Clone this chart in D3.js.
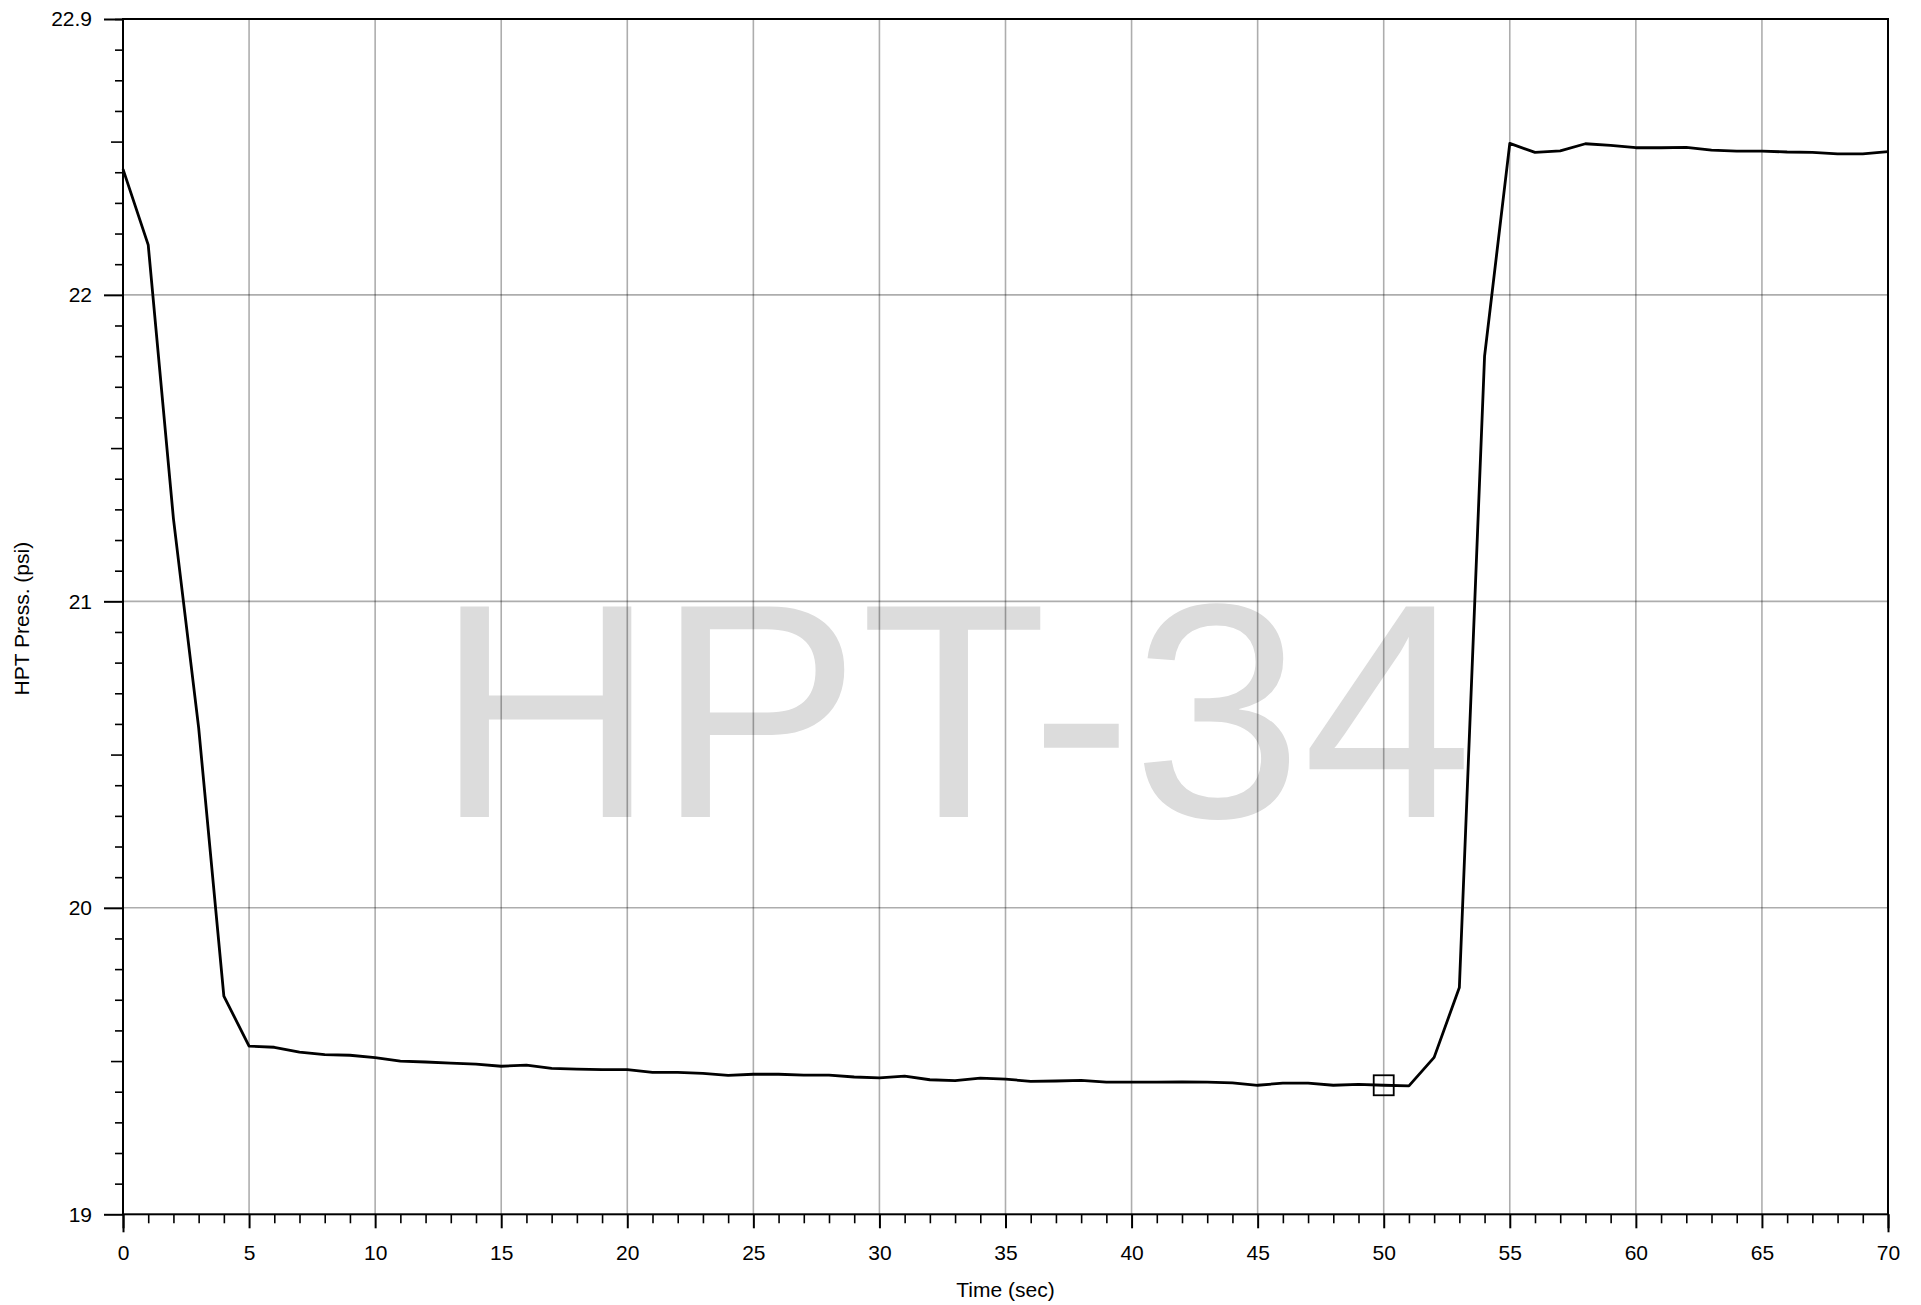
<!DOCTYPE html>
<html>
<head>
<meta charset="utf-8">
<script src="https://cdn.jsdelivr.net/npm/d3@7"></script>
<style>
  html, body { margin: 0; padding: 0; background: #fff; }
  svg { display: block; font-family: "Liberation Sans", Arial, Helvetica, sans-serif; }
</style>
</head>
<body>
<svg id="chart" width="1921" height="1305"></svg>
<script>
// Sample times (sec)
const timeSec = [0, 1, 2, 3, 4, 5, 6, 7, 8, 9, 10, 11, 12, 13, 14, 15, 16, 17, 18, 19,
  20, 21, 22, 23, 24, 25, 26, 27, 28, 29, 30, 31, 32, 33, 34, 35, 36, 37, 38, 39,
  40, 41, 42, 43, 44, 45, 46, 47, 48, 49, 50, 51, 52, 53, 54, 55, 56, 57, 58, 59,
  60, 61, 62, 63, 64, 65, 66, 67, 68, 69, 70];

// HPT pressure (psi) at each sample time
const hptPressure = [22.41, 22.163, 21.27, 20.588, 19.712, 19.549, 19.545, 19.529, 19.521, 19.519,
  19.511, 19.500, 19.497, 19.493, 19.490, 19.483, 19.487, 19.476, 19.474, 19.472,
  19.472, 19.463, 19.463, 19.460, 19.453, 19.457, 19.457, 19.454, 19.454, 19.448,
  19.445, 19.451, 19.439, 19.436, 19.444, 19.441, 19.434, 19.435, 19.437, 19.431,
  19.431, 19.431, 19.432, 19.431, 19.429, 19.421, 19.428, 19.428, 19.421, 19.424,
  19.421, 19.419, 19.512, 19.740, 21.80, 22.494, 22.465, 22.470, 22.493, 22.488,
  22.480, 22.480, 22.481, 22.472, 22.469, 22.469, 22.466, 22.465, 22.460, 22.460,
  22.467];

// Highlighted sample
const markerTime = [50];
const markerPressure = [19.421];

// Axis tick labels
const xTickLabels = [0, 5, 10, 15, 20, 25, 30, 35, 40, 45, 50, 55, 60, 65, 70];
const yTickLabels = [19, 20, 21, 22, 22.9];
const yHalfTicks = [19.5, 20.5, 21.5, 22.5];

const xDomain = [0, 70];
const yDomain = [19, 22.9];

const watermarkText = "HPT-34";
const xTitle = "Time (sec)";
const yTitle = "HPT Press. (psi)";

// ---- layout ----
const plotLeft = 123, plotRight = 1888, plotTop = 19, plotBottom = 1214.3;
const svg = d3.select("#chart");

const x = d3.scaleLinear().domain(xDomain).range([plotLeft, plotRight]);
const y = d3.scaleLinear().domain(yDomain).range([plotBottom, plotTop]);

const fontSize = 21;

// Watermark sits beneath grid and data
svg.append("text")
  .attr("x", 954)
  .attr("y", 817)
  .attr("text-anchor", "middle")
  .attr("font-size", 306)
  .attr("fill", "#dcdcdc")
  .text(watermarkText);

// Grid lines
const grid = svg.append("g").attr("stroke", "#000").attr("stroke-opacity", 0.32).attr("stroke-width", 1.6);
grid.selectAll("line.vx")
  .data(xTickLabels.filter(v => v > xDomain[0] && v < xDomain[1]))
  .join("line")
  .attr("x1", d => x(d)).attr("x2", d => x(d))
  .attr("y1", plotTop).attr("y2", plotBottom);
grid.selectAll("line.hy")
  .data(yTickLabels.filter(v => v > yDomain[0] && v < yDomain[1]))
  .join("line")
  .attr("x1", plotLeft).attr("x2", plotRight)
  .attr("y1", d => y(d)).attr("y2", d => y(d));

// ---- X axis layers ----
const xMinor = d3.range(xDomain[0], xDomain[1] + 1, 1).filter(v => v % 5 !== 0);
function styleAxis(g, width) {
  g.selectAll(".tick line").attr("stroke", "#000").attr("stroke-width", width);
  g.select(".domain").remove();
}
svg.append("g")
  .attr("transform", `translate(0,${plotBottom})`)
  .call(d3.axisBottom(x).tickValues(xMinor).tickSize(9).tickFormat(""))
  .call(g => styleAxis(g, 1.6));
svg.append("g")
  .attr("transform", `translate(0,${plotBottom})`)
  .call(d3.axisBottom(x).tickValues([xDomain[0], xDomain[1]]).tickSize(18).tickFormat(""))
  .call(g => styleAxis(g, 2));
svg.append("g")
  .attr("transform", `translate(0,${plotBottom})`)
  .call(d3.axisBottom(x).tickValues(xTickLabels).tickSize(14).tickPadding(17).tickFormat(d3.format("d")))
  .call(g => styleAxis(g, 2))
  .call(g => g.selectAll("text").attr("font-size", fontSize).attr("fill", "#000")
    .attr("font-family", "'Liberation Sans', Arial, sans-serif"));

// ---- Y axis layers ----
const yMinor = d3.range(190, 230, 1).map(v => v / 10)
  .filter(v => Math.abs(v * 2 - Math.round(v * 2)) > 1e-6);
svg.append("g")
  .attr("transform", `translate(${plotLeft},0)`)
  .call(d3.axisLeft(y).tickValues(yMinor).tickSize(8).tickFormat(""))
  .call(g => styleAxis(g, 1.6));
svg.append("g")
  .attr("transform", `translate(${plotLeft},0)`)
  .call(d3.axisLeft(y).tickValues(yHalfTicks).tickSize(12).tickFormat(""))
  .call(g => styleAxis(g, 1.6));
svg.append("g")
  .attr("transform", `translate(${plotLeft},0)`)
  .call(d3.axisLeft(y).tickValues(yTickLabels).tickSize(19).tickPadding(12).tickFormat(d => String(d)))
  .call(g => styleAxis(g, 2))
  .call(g => g.selectAll("text").attr("font-size", fontSize).attr("fill", "#000")
    .attr("font-family", "'Liberation Sans', Arial, sans-serif"));

// Plot frame
svg.append("rect")
  .attr("x", plotLeft).attr("y", plotTop)
  .attr("width", plotRight - plotLeft).attr("height", plotBottom - plotTop)
  .attr("fill", "none").attr("stroke", "#000").attr("stroke-width", 2);

// Data line
const series = timeSec.map((t, i) => ({ t, p: hptPressure[i] }));
svg.append("path")
  .datum(series)
  .attr("fill", "none")
  .attr("stroke", "#000")
  .attr("stroke-width", 2.8)
  .attr("stroke-linejoin", "round")
  .attr("d", d3.line().x(d => x(d.t)).y(d => y(d.p)));

// Marker
const markers = markerTime.map((t, i) => ({ t, p: markerPressure[i] }));
const ms = 20;
svg.selectAll("rect.marker")
  .data(markers)
  .join("rect")
  .attr("class", "marker")
  .attr("x", d => x(d.t) - ms / 2)
  .attr("y", d => y(d.p) - ms / 2)
  .attr("width", ms).attr("height", ms)
  .attr("fill", "none")
  .attr("stroke", "#000")
  .attr("stroke-width", 1.8);

// Axis titles
svg.append("text")
  .attr("x", (plotLeft + plotRight) / 2)
  .attr("y", 1297)
  .attr("text-anchor", "middle")
  .attr("font-size", fontSize)
  .attr("fill", "#000")
  .text(xTitle);

svg.append("text")
  .attr("transform", `translate(28.5,${(plotTop + plotBottom) / 2 + 2}) rotate(-90)`)
  .attr("text-anchor", "middle")
  .attr("font-size", fontSize)
  .attr("fill", "#000")
  .text(yTitle);
</script>
</body>
</html>
